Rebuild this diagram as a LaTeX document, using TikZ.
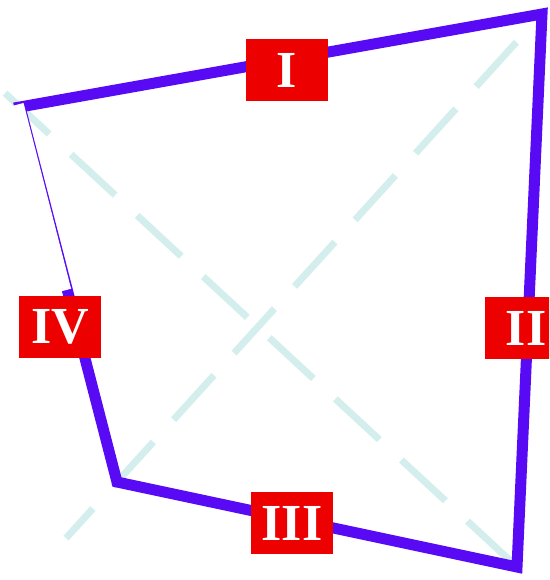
\documentclass[tikz,border=0pt]{standalone}
\usepackage{fontspec}
\setmainfont{Liberation Serif}
\usetikzlibrary{calc}
\definecolor{edgeviolet}{RGB}{88,10,245}
\definecolor{tagred}{RGB}{236,0,0}
\definecolor{diagcyan}{RGB}{212,238,238}
\tikzset{side/.style={line width=11pt, color=edgeviolet, line join=miter}}
\tikzset{diag/.style={line width=7pt, color=diagcyan, dash pattern=on 60pt off 30pt}}

\begin{document}
\begin{tikzpicture}[
		x=1pt, y=-1pt,
		tag/.style={fill=tagred, text=white, inner sep=0pt,
			minimum width=82pt, minimum height=62pt,
			font=\fontsize{52}{52}\selectfont\bfseries}
		]
		\useasboundingbox (0,0) rectangle (549,580);
		\clip (0,0) rectangle (549,580);
		% corners of the four-sided field
		\coordinate (A) at (20,107);
		\coordinate (B) at (542,14);
		\coordinate (C) at (517,567);
		\coordinate (D) at (117,482);
		% diagonals
		\draw[diag] ($(A)!-0.03!(C)$) -- ($(A)!0.99!(C)$);
		\draw[diag, dash phase=20pt] ($(D)!-0.12!(B)$) -- ($(D)!0.98!(B)$);
		% sides
		\draw[side] (A) -- (B) -- (C) -- (D) -- cycle;
		\draw[white, line width=16pt] ($(A)+(-4.2,-2)$) -- ($(A)!0.49!(D)+(-4.2,0)$);
		% side labels
		\node[tag] (I) at (287,70) {I};
		\node[tag] (II) at (526,328) {II};
		\node[tag] (III) at (292,523) {III};
		\node[tag] (IV) at (60,327) {IV};
	\end{tikzpicture}
\end{document}
